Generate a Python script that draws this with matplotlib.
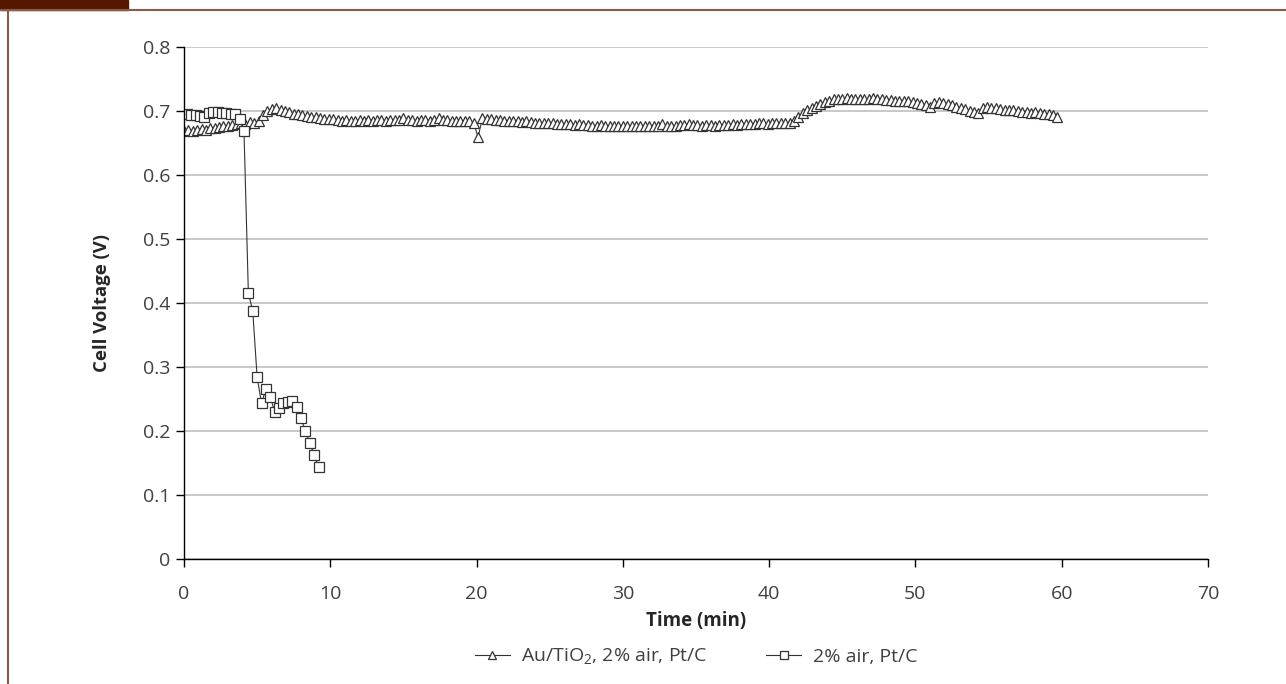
import matplotlib
matplotlib.use("Agg")
import matplotlib.pyplot as plt
from matplotlib.lines import Line2D
from matplotlib.patches import Rectangle

# fonts - Open Sans is closest to the original
plt.rcParams['font.family'] = ['Open Sans', 'DejaVu Sans']
plt.rcParams['mathtext.fontset'] = 'custom'
plt.rcParams['mathtext.rm'] = 'Open Sans'

###########################################################
# data
###########################################################

# Au/TiO2, 2% air, Pt/C  (triangles)
time_au = [
    0.0, 0.3, 0.6, 0.9, 1.2, 1.5, 1.8, 2.1, 2.4, 2.7,
    3.0, 3.3, 3.6, 3.9, 4.2, 4.5, 4.8, 5.1, 5.4, 5.7,
    6.0, 6.3, 6.6, 6.9, 7.2, 7.5, 7.8, 8.1, 8.4, 8.7,
    9.0, 9.3, 9.6, 9.9, 10.2, 10.5, 10.8, 11.1, 11.4, 11.7,
    12.0, 12.3, 12.6, 12.9, 13.2, 13.5, 13.8, 14.1, 14.4, 14.7,
    15.0, 15.3, 15.6, 15.9, 16.2, 16.5, 16.8, 17.1, 17.4, 17.7,
    18.0, 18.3, 18.6, 18.9, 19.2, 19.5, 19.8, 20.1, 20.4, 20.7,
    21.0, 21.3, 21.6, 21.9, 22.2, 22.5, 22.8, 23.1, 23.4, 23.7,
    24.0, 24.3, 24.6, 24.9, 25.2, 25.5, 25.8, 26.1, 26.4, 26.7,
    27.0, 27.3, 27.6, 27.9, 28.2, 28.5, 28.8, 29.1, 29.4, 29.7,
    30.0, 30.3, 30.6, 30.9, 31.2, 31.5, 31.8, 32.1, 32.4, 32.7,
    33.0, 33.3, 33.6, 33.9, 34.2, 34.5, 34.8, 35.1, 35.4, 35.7,
    36.0, 36.3, 36.6, 36.9, 37.2, 37.5, 37.8, 38.1, 38.4, 38.7,
    39.0, 39.3, 39.6, 39.9, 40.2, 40.5, 40.8, 41.1, 41.4, 41.7,
    42.0, 42.3, 42.6, 42.9, 43.2, 43.5, 43.8, 44.1, 44.4, 44.7,
    45.0, 45.3, 45.6, 45.9, 46.2, 46.5, 46.8, 47.1, 47.4, 47.7,
    48.0, 48.3, 48.6, 48.9, 49.2, 49.5, 49.8, 50.1, 50.4, 50.7,
    51.0, 51.3, 51.6, 51.9, 52.2, 52.5, 52.8, 53.1, 53.4, 53.7,
    54.0, 54.3, 54.6, 54.9, 55.2, 55.5, 55.8, 56.1, 56.4, 56.7,
    57.0, 57.3, 57.6, 57.9, 58.2, 58.5, 58.8, 59.1, 59.4, 59.7,
]
volt_au = [
    0.668, 0.670, 0.669, 0.671, 0.672, 0.671, 0.673, 0.674, 0.675, 0.676,
    0.677, 0.678, 0.679, 0.681, 0.680, 0.683, 0.682, 0.685, 0.694, 0.700,
    0.703, 0.704, 0.702, 0.700, 0.698, 0.696, 0.695, 0.693, 0.692, 0.691,
    0.690, 0.689, 0.688, 0.687, 0.687, 0.686, 0.685, 0.686, 0.685, 0.685,
    0.686, 0.685, 0.686, 0.685, 0.686, 0.686, 0.685, 0.686, 0.686, 0.686,
    0.689, 0.686, 0.686, 0.685, 0.686, 0.686, 0.685, 0.686, 0.689, 0.686,
    0.686, 0.685, 0.685, 0.685, 0.684, 0.684, 0.682, 0.659, 0.689, 0.688,
    0.687, 0.686, 0.686, 0.685, 0.685, 0.684, 0.684, 0.683, 0.685, 0.683,
    0.682, 0.682, 0.681, 0.682, 0.681, 0.680, 0.680, 0.679, 0.679, 0.678,
    0.679, 0.678, 0.678, 0.677, 0.677, 0.678, 0.677, 0.677, 0.677, 0.677,
    0.677, 0.677, 0.676, 0.677, 0.676, 0.677, 0.677, 0.676, 0.677, 0.679,
    0.677, 0.677, 0.677, 0.678, 0.678, 0.680, 0.678, 0.678, 0.677, 0.678,
    0.678, 0.677, 0.678, 0.678, 0.678, 0.679, 0.678, 0.679, 0.679, 0.680,
    0.680, 0.682, 0.681, 0.680, 0.681, 0.681, 0.681, 0.681, 0.682, 0.684,
    0.690, 0.697, 0.701, 0.705, 0.708, 0.711, 0.714, 0.716, 0.718, 0.719,
    0.719, 0.720, 0.719, 0.719, 0.719, 0.718, 0.719, 0.720, 0.718, 0.718,
    0.717, 0.717, 0.716, 0.716, 0.715, 0.715, 0.714, 0.712, 0.711, 0.709,
    0.707, 0.713, 0.714, 0.712, 0.711, 0.709, 0.707, 0.705, 0.703, 0.700,
    0.698, 0.697, 0.705, 0.706, 0.705, 0.704, 0.703, 0.702, 0.702, 0.701,
    0.700, 0.699, 0.698, 0.697, 0.699, 0.697, 0.696, 0.695, 0.693, 0.691,
]

# 2% air, Pt/C  (squares)
time_pt = [
    0.2, 0.5, 0.8, 1.1, 1.4, 1.7, 2.0, 2.3, 2.6, 2.9,
    3.2, 3.5, 3.8, 4.1, 4.4, 4.7, 5.0, 5.3, 5.6, 5.9,
    6.2, 6.5, 6.8, 7.1, 7.4, 7.7, 8.0, 8.3, 8.6, 8.9,
    9.2,
]
volt_pt = [
    0.695, 0.694, 0.693, 0.692, 0.691, 0.697, 0.699, 0.698, 0.697, 0.697,
    0.696, 0.696, 0.687, 0.669, 0.416, 0.387, 0.284, 0.243, 0.266, 0.253,
    0.230, 0.236, 0.244, 0.246, 0.247, 0.238, 0.220, 0.200, 0.181, 0.163,
    0.143,
]

x_ticks = [0, 10, 20, 30, 40, 50, 60, 70]
y_ticks = [0, 0.1, 0.2, 0.3, 0.4, 0.5, 0.6, 0.7, 0.8]
y_labels = ['0', '0.1', '0.2', '0.3', '0.4', '0.5', '0.6', '0.7', '0.8']

###########################################################
# figure
###########################################################
fig = plt.figure(figsize=(12.86, 6.84), dpi=100)
ax = fig.add_axes([184/1286, 1-559/684, 1024/1286, 512/684])

dark = '#333333'
ax.plot(time_au, volt_au, color=dark, lw=0.8, marker='^', ms=7,
        mfc='white', mec=dark, mew=0.9,
        label=r'Au/TiO$_\mathregular{2}$, 2% air, Pt/C')
ax.plot(time_pt, volt_pt, color=dark, lw=0.8, marker='s', ms=7,
        mfc='white', mec=dark, mew=0.9, label='2% air, Pt/C')

ax.set_xlim(0, 70)
ax.set_ylim(0, 0.8)
ax.set_xticks(x_ticks)
ax.set_yticks(y_ticks)
ax.set_yticklabels(y_labels)

ax.yaxis.grid(True, color='#BFBFBF', lw=1.2)
ax.set_axisbelow(True)
for s in ['top', 'right']:
    ax.spines[s].set_visible(False)
for s in ['left', 'bottom']:
    ax.spines[s].set_linewidth(1.0)
    ax.spines[s].set_color('black')

ax.tick_params(direction='out', length=6, width=1, colors='black',
               labelsize=14, labelcolor='#404040')
ax.tick_params(axis='x', pad=13)
ax.tick_params(axis='y', pad=4)

ax.set_xlabel('Time (min)', fontsize=13.5, fontweight='bold', color='#262626')
ax.xaxis.set_label_coords(0.5, -0.102)
ax.set_ylabel('Cell Voltage (V)', fontsize=13.3, fontweight='bold', color='#262626')
ax.yaxis.set_label_coords(-0.071, 0.5)

ax.legend(loc='center', bbox_to_anchor=(696/1286, 1-657/684),
          bbox_transform=fig.transFigure, ncol=2, frameon=False,
          fontsize=14, handlelength=1.8, handletextpad=0.6,
          columnspacing=3.0, markerscale=0.8, labelcolor='#404040')

# page decoration: brown tab and frame lines
fig.patches.append(Rectangle((0, 1-9.5/684), 128/1286, 9.5/684,
                             transform=fig.transFigure, color='#561700'))
fig.lines.append(Line2D([0, 1], [1-9.5/684, 1-9.5/684],
                        transform=fig.transFigure, color='#8B5A4B', lw=1.5))
fig.lines.append(Line2D([7.5/1286, 7.5/1286], [0, 1-9.5/684],
                        transform=fig.transFigure, color='#8B5A4B', lw=1.5))

fig.savefig('out.png', dpi=100)
